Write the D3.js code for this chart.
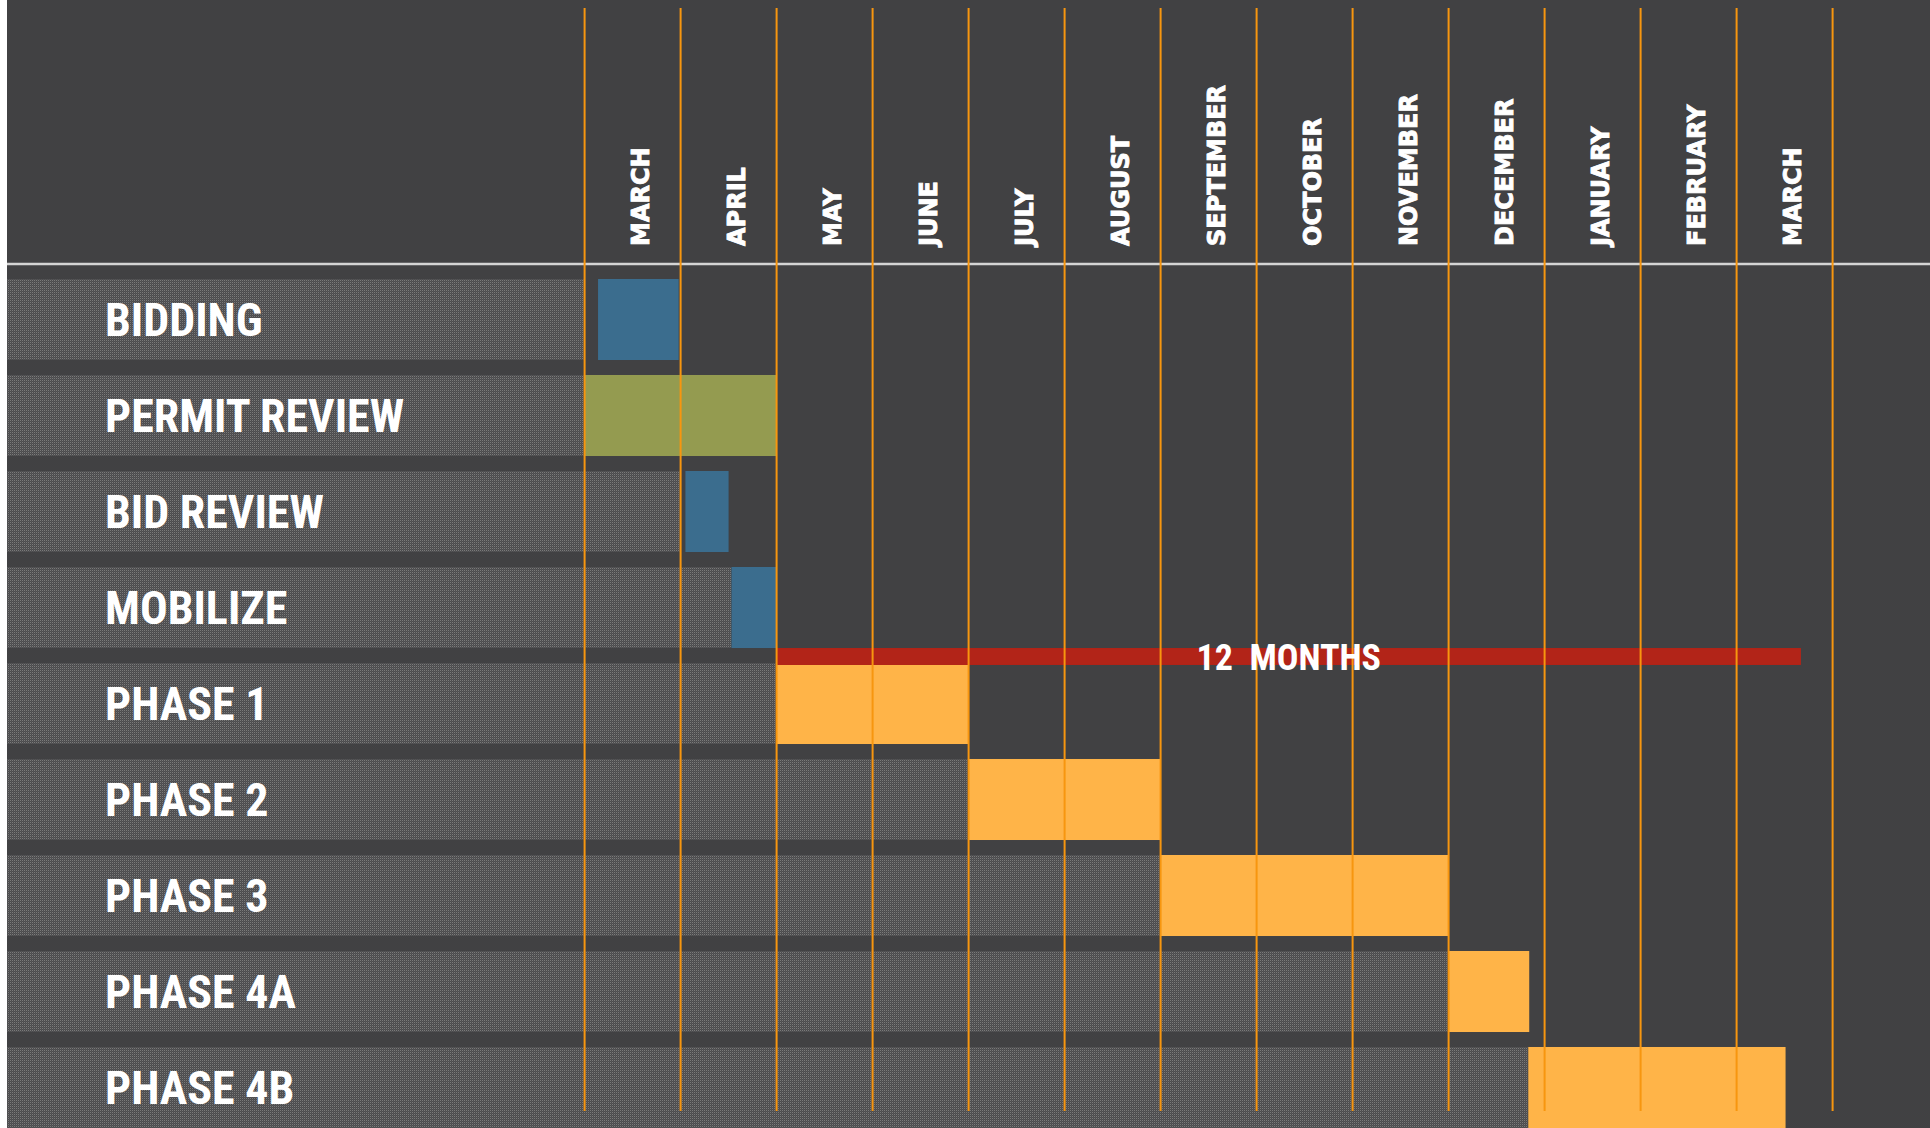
<!DOCTYPE html>
<html>
<head>
<meta charset="utf-8">
<script src="https://cdn.jsdelivr.net/npm/d3@7"></script>
<style>
  body { margin: 0; background: #ffffff; }
  svg { display: block; }
</style>
</head>
<body>
<svg id="chart"></svg>
<script>
// schedule data, in months from the first MARCH
let tasks = ["BIDDING", "PERMIT REVIEW", "BID REVIEW", "MOBILIZE", "PHASE 1", "PHASE 2", "PHASE 3", "PHASE 4A", "PHASE 4B"];
let taskStart = [0.14, 0, 1.05, 1.53, 2, 4, 6, 9, 9.83];
let taskEnd = [0.98, 2, 1.5, 2, 4, 6, 9, 9.84, 12.51];
let taskKind = ["bid", "permit", "bid", "bid", "phase", "phase", "phase", "phase", "phase"];
let shadeEnd = [0, 0, 1, 1.53, 2, 4, 6, 9, 9.83];

let months = ["MARCH", "APRIL", "MAY", "JUNE", "JULY", "AUGUST", "SEPTEMBER", "OCTOBER", "NOVEMBER", "DECEMBER", "JANUARY", "FEBRUARY", "MARCH"];

let spanStart = 2;
let spanEnd = 12.67;
let spanLabel = "12  MONTHS";

let width = 1930;
let height = 1128;
let leftEdge = 7;

let bgColor = "#414143";
let lineColor = "#f7960f";
let kindColor = {"bid": "#3b6d8e", "permit": "#949b50", "phase": "#ffb448"};
let spanColor = "#b22418";
let labelFont = "'Liberation Sans Narrow', 'Roboto Condensed', 'DejaVu Sans Condensed', 'Liberation Sans', sans-serif";
let monthFont = "'DejaVu Sans', Verdana, sans-serif";

let svg = d3.select("#chart")
    .attr("width", width)
    .attr("height", height);

// dotted texture for the row bands
let pat = svg.append("defs").append("pattern")
    .attr("id", "dots")
    .attr("width", 2)
    .attr("height", 2)
    .attr("patternUnits", "userSpaceOnUse");
pat.append("rect").attr("width", 2).attr("height", 2).style("fill", "#4b4b4d");
pat.append("rect").attr("width", 1).attr("height", 1).style("fill", "#7a7a7a");
pat.append("rect").attr("x", 1).attr("y", 1).attr("width", 1).attr("height", 1).style("fill", "#555557");

svg.append("rect")
    .attr("x", leftEdge)
    .attr("y", 0)
    .attr("width", width - leftEdge)
    .attr("height", height)
    .style("fill", bgColor);

let x = d3.scaleLinear()
    .domain([0, months.length])
    .range([584.6, 1832.6]);

let y = d3.scaleBand()
    .domain(tasks)
    .range([271.5, 1135.5])
    .paddingInner(0.156)
    .paddingOuter(0.078);

// row bands
svg.selectAll(".band")
    .data(tasks)
    .enter()
    .append("rect")
        .attr("class", "band")
        .attr("x", leftEdge)
        .attr("y", d => y(d))
        .attr("width", (d, i) => x(shadeEnd[i]) - leftEdge)
        .attr("height", y.bandwidth())
        .style("fill", "url(#dots)")
        .style("shape-rendering", "crispEdges");

// task bars
svg.selectAll(".bar")
    .data(tasks)
    .enter()
    .append("rect")
        .attr("class", "bar")
        .attr("x", (d, i) => x(taskStart[i]))
        .attr("y", d => y(d))
        .attr("width", (d, i) => x(taskEnd[i]) - x(taskStart[i]))
        .attr("height", y.bandwidth())
        .style("fill", (d, i) => kindColor[taskKind[i]]);

// 12 months span bar, sits in the gap above PHASE 1
let gap = y.step() - y.bandwidth();
let spanY = y(tasks[4]) - gap;
svg.append("rect")
    .attr("x", x(spanStart))
    .attr("y", spanY)
    .attr("width", x(spanEnd) - x(spanStart))
    .attr("height", gap + 2)
    .style("fill", spanColor);

// header separator
svg.append("line")
    .attr("x1", leftEdge)
    .attr("x2", width)
    .attr("y1", 264)
    .attr("y2", 264)
    .style("stroke", "#d4d4d4")
    .style("stroke-width", 2.5);

// month grid lines
svg.selectAll(".grid")
    .data(d3.range(months.length + 1))
    .enter()
    .append("line")
        .attr("class", "grid")
        .attr("x1", d => x(d))
        .attr("x2", d => x(d))
        .attr("y1", 8)
        .attr("y2", 1111)
        .style("stroke", lineColor)
        .style("stroke-width", 2);

// month labels, rotated
svg.selectAll(".month")
    .data(months)
    .enter()
    .append("text")
        .attr("class", "month")
        .attr("transform", (d, i) => "translate(" + (x(i + 0.5) + 16) + ",246) rotate(-90)")
        .text(d => d)
        .style("font-family", monthFont)
        .style("font-weight", "bold")
        .style("font-size", "24px")
        .style("fill", "#ffffff")
        .style("stroke", "#ffffff")
        .style("stroke-width", 0.9);

// row labels
svg.selectAll(".label")
    .data(tasks)
    .enter()
    .append("text")
        .attr("class", "label")
        .attr("x", 105)
        .attr("y", d => y(d) + y.bandwidth() / 2 + 16.5)
        .text(d => d)
        .style("font-family", labelFont)
        .style("font-weight", "bold")
        .style("font-size", "46px")
        .style("fill", "#ffffff");

svg.append("text")
    .attr("x", (x(spanStart) + x(spanEnd)) / 2)
    .attr("y", spanY + (gap + 2) / 2 + 13)
    .attr("text-anchor", "middle")
    .text(spanLabel)
    .style("white-space", "pre")
    .style("font-family", labelFont)
    .style("font-weight", "bold")
    .style("font-size", "36px")
    .style("fill", "#ffffff");
</script>
</body>
</html>
